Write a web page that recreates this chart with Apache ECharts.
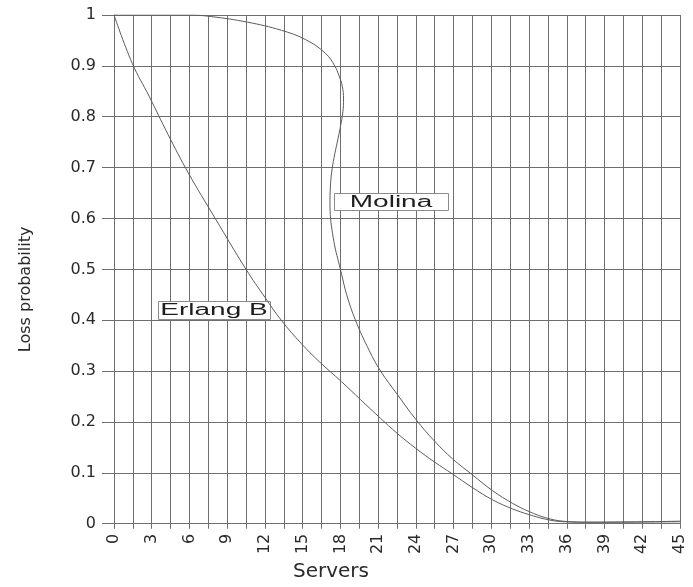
<!DOCTYPE html>
<html>
<head>
<meta charset="utf-8">
<script src="https://cdn.jsdelivr.net/npm/echarts@6/dist/echarts.min.js"></script>
<style>
html,body{margin:0;padding:0;background:#ffffff;}
#chart{width:693px;height:587px;}
</style>
</head>
<body>
<div id="chart"></div>
<script>
// ---- data ----
const seriesNames = ['Erlang B', 'Molina'];

const erlangServers = [0, 1.45, 2.8, 4.3, 5.9, 8.05, 10.5, 12, 13.3, 14.9, 16.3, 18.1, 19.6, 21.2, 22.5, 24, 25.5, 26.9, 28.5, 30.1, 31.7, 33, 34.3, 35.7, 38, 45];
const erlangLoss    = [1, 0.905, 0.84, 0.765, 0.69, 0.6, 0.5, 0.445, 0.4, 0.354, 0.319, 0.279, 0.244, 0.207, 0.178, 0.148, 0.121, 0.098, 0.071, 0.047, 0.029, 0.018, 0.009, 0.004, 0.003, 0.004];

const molinaServers = [0, 6, 7.7, 10.6, 13.3, 15.2, 16.8, 17.55, 17.9, 18.15, 18.25, 18.2, 18.0, 17.75, 17.5, 17.3, 17.2, 17.17, 17.22, 17.38, 17.6, 17.85, 18.1, 18.5, 19.2, 20.3, 21.2, 22.5, 24, 25.5, 26.9, 28.5, 30.1, 31.7, 33, 34.3, 35.7, 38, 45];
const molinaLoss    = [1, 1, 0.997, 0.986, 0.97, 0.952, 0.925, 0.9, 0.88, 0.86, 0.835, 0.81, 0.78, 0.75, 0.72, 0.69, 0.66, 0.63, 0.6, 0.57, 0.54, 0.515, 0.49, 0.45, 0.4, 0.34, 0.3, 0.255, 0.205, 0.162, 0.128, 0.096, 0.065, 0.04, 0.024, 0.012, 0.005, 0.003, 0.005];

const xTickLabels = ['0', '3', '6', '9', '12', '15', '18', '21', '24', '27', '30', '33', '36', '39', '42', '45'];
const yTickLabels = ['0', '0.1', '0.2', '0.3', '0.4', '0.5', '0.6', '0.7', '0.8', '0.9', '1'];

const xAxisTitle = 'Servers';
const yAxisTitle = 'Loss probability';

const annotationTexts = ['Molina', 'Erlang B'];

// ---- layout / style (not data) ----
const annotationAnchors = [[22.0, 0.632], [7.95, 0.42]];   // box centres in data units
const annotationBoxes = [[114, 17], [112, 18]];               // box sizes in px

const gridColor = '#6f6f6f';
const curveColor = '#5c5c5c';
const textColor = '#2a2a2a';

const zip = (xs, ys) => xs.map((x, i) => [x, ys[i]]);

const chart = echarts.init(document.getElementById('chart'), null, {renderer: 'canvas'});

const option = {
  animation: false,
  backgroundColor: '#ffffff',
  grid: {left: 114, top: 15, width: 566, height: 519, containLabel: false},
  xAxis: {
    type: 'value',
    min: 0, max: 45, interval: 1.5,
    name: xAxisTitle,
    nameLocation: 'middle',
    nameGap: 35,
    nameTextStyle: {fontFamily: 'DejaVu Sans', fontSize: 20, color: textColor, padding: [0, 132, 0, 0]},
    axisLine: {show: true, lineStyle: {color: gridColor, width: 1}},
    axisTick: {show: true, inside: false, length: 5, lineStyle: {color: gridColor, width: 1}},
    splitLine: {show: true, lineStyle: {color: gridColor, width: 1}},
    axisLabel: {
      rotate: 90,
      margin: 10,
      fontFamily: 'DejaVu Sans',
      fontSize: 16,
      color: textColor,
      formatter: function (v) {
        const k = Math.round(v * 2) / 2;
        if (Math.abs(k / 3 - Math.round(k / 3)) < 1e-6) {
          return xTickLabels[Math.round(k / 3)] || '';
        }
        return '';
      }
    }
  },
  yAxis: {
    type: 'value',
    min: 0, max: 1, interval: 0.1,
    name: yAxisTitle,
    nameLocation: 'middle',
    nameRotate: 90,
    nameGap: 80,
    nameTextStyle: {fontFamily: 'DejaVu Sans', fontSize: 16, color: textColor, padding: [0, 40, 0, 0]},
    axisLine: {show: true, lineStyle: {color: gridColor, width: 1}},
    axisTick: {show: true, inside: false, length: 12, lineStyle: {color: gridColor, width: 1}},
    splitLine: {show: true, lineStyle: {color: gridColor, width: 1}},
    axisLabel: {
      margin: 18,
      fontFamily: 'DejaVu Sans',
      fontSize: 16,
      color: textColor,
      formatter: function (v) {
        return yTickLabels[Math.round(v * 10)];
      }
    }
  },
  series: [
    {
      name: seriesNames[0],
      type: 'line',
      data: zip(erlangServers, erlangLoss),
      smooth: 0.4,
      showSymbol: false,
      symbol: 'none',
      lineStyle: {color: curveColor, width: 1},
      z: 5
    },
    {
      name: seriesNames[1],
      type: 'line',
      data: zip(molinaServers, molinaLoss),
      smooth: 0.4,
      showSymbol: false,
      symbol: 'none',
      lineStyle: {color: curveColor, width: 1},
      z: 5
    }
  ]
};

chart.setOption(option);

const graphics = annotationTexts.map(function (txt, i) {
  const p = chart.convertToPixel({xAxisIndex: 0, yAxisIndex: 0}, annotationAnchors[i]);
  const w = annotationBoxes[i][0], h = annotationBoxes[i][1];
  const cx = Math.round(p[0]), cy = Math.round(p[1]);
  return {
    type: 'group',
    x: cx, y: cy,
    z: 100,
    children: [
      {
        type: 'rect',
        shape: {x: -Math.round(w / 2) + 0.5, y: -Math.round(h / 2) + 0.5, width: w, height: h},
        style: {fill: '#ffffff', stroke: '#8c8c8c', lineWidth: 1}
      },
      {
        type: 'text',
        x: 0, y: 1,
        scaleX: 1.75,
        style: {
          text: txt,
          fontFamily: 'Liberation Sans',
          fontSize: 16,
          fill: '#1e1e1e',
          align: 'center',
          verticalAlign: 'middle'
        }
      }
    ]
  };
});

chart.setOption({graphic: graphics});
</script>
</body>
</html>
